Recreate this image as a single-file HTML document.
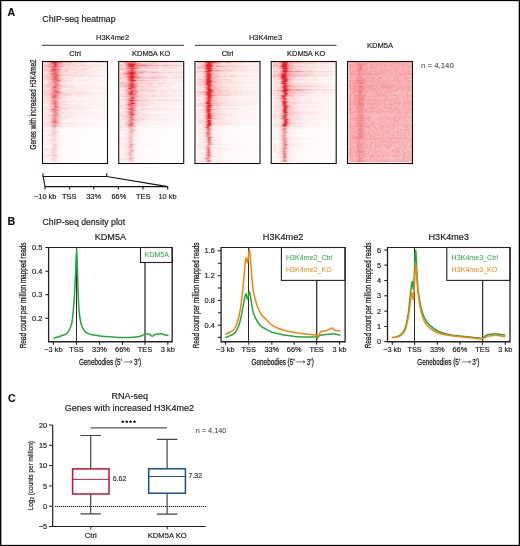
<!DOCTYPE html>
<html><head><meta charset="utf-8"><style>
html,body{margin:0;padding:0;background:#fff;}
#wrap{position:relative;width:520px;height:546px;overflow:hidden;background:#fff;font-family:"Liberation Sans", sans-serif;}
svg{position:absolute;left:0;top:0;}
svg text{font-family:"Liberation Sans", sans-serif;stroke-width:0.18px;}
canvas{image-rendering:auto;}
</style></head><body><div id="wrap">
<canvas id="hm0" width="64" height="101" style="position:absolute;left:43px;top:62px;width:64px;height:101px;background:linear-gradient(to bottom,rgba(255,255,255,0) 0,rgba(255,255,255,.35) 63%,rgba(255,255,255,.75) 64%,rgba(255,255,255,.8) 100%),linear-gradient(to right,#f8d8da 0,#f5c8cb 8px,#ee8d92 11px,#f3b5b8 15px,#f8d9db 25px,#fbe9ea 100%)"></canvas><canvas id="hm1" width="64" height="101" style="position:absolute;left:119.2px;top:62px;width:64px;height:101px;background:linear-gradient(to bottom,rgba(255,255,255,0) 0,rgba(255,255,255,.3) 63%,rgba(255,255,255,.7) 64%,rgba(255,255,255,.75) 100%),linear-gradient(to right,#f7d0d2 0,#f3c0c3 8px,#eb7278 11px,#f1a6aa 15px,#f6d0d2 25px,#fae4e5 100%)"></canvas><canvas id="hm2" width="64" height="101" style="position:absolute;left:195.5px;top:62px;width:64px;height:101px;background:linear-gradient(to bottom,rgba(255,255,255,0) 0,rgba(255,255,255,.3) 63%,rgba(255,255,255,.6) 64%,rgba(255,255,255,.65) 100%),linear-gradient(to right,#f8dcde 0,#f2b8bb 9px,#e63c44 12px,#f0a2a6 16px,#f8d8da 26px,#fbeaea 100%)"></canvas><canvas id="hm3" width="64" height="101" style="position:absolute;left:271.7px;top:62px;width:64px;height:101px;background:linear-gradient(to bottom,rgba(255,255,255,0) 0,rgba(255,255,255,.3) 63%,rgba(255,255,255,.6) 64%,rgba(255,255,255,.65) 100%),linear-gradient(to right,#f8dcde 0,#f2b8bb 9px,#e63c44 12px,#f0a2a6 16px,#f8d8da 26px,#fbeaea 100%)"></canvas><canvas id="hm4" width="64" height="101" style="position:absolute;left:348px;top:62px;width:64px;height:101px;background:linear-gradient(to right,#f3a9ac 0,#f0979b 12px,#f3a9ac 20px,#f4b0b3 100%)"></canvas>
<svg width="520" height="546" viewBox="0 0 520 546">
<rect x="0.5" y="0.5" width="519" height="545" fill="none" stroke="#000" stroke-width="1"/>
<line x1="1.5" y1="1" x2="1.5" y2="545" stroke="#000" stroke-opacity="0.35"/>
<line x1="518.5" y1="1" x2="518.5" y2="545" stroke="#000" stroke-opacity="0.3"/>
<line x1="2" y1="1.5" x2="518" y2="1.5" stroke="#000" stroke-opacity="0.15"/>
<line x1="2" y1="544.5" x2="518" y2="544.5" stroke="#000" stroke-opacity="0.15"/>
<text x="7.6" y="15.6" font-size="10.6" text-anchor="start" fill="#111" stroke="#111" font-weight="bold" >A</text>
<text x="42.3" y="22" font-size="8.8" text-anchor="start" fill="#222" stroke="#222" font-weight="normal" >ChIP-seq heatmap</text>
<text x="112.6" y="39.8" font-size="7.45" text-anchor="middle" fill="#222" stroke="#222" font-weight="normal" >H3K4me2</text>
<text x="265.5" y="39.8" font-size="7.45" text-anchor="middle" fill="#222" stroke="#222" font-weight="normal" >H3K4me3</text>
<line x1="42" y1="45.3" x2="184" y2="45.3" stroke="#333" stroke-width="1"/>
<line x1="194.8" y1="45.3" x2="336.5" y2="45.3" stroke="#333" stroke-width="1"/>
<text x="75" y="55.5" font-size="7.5" text-anchor="middle" fill="#222" stroke="#222" font-weight="normal" >Ctrl</text>
<text x="151.2" y="55.5" font-size="7.5" text-anchor="middle" fill="#222" stroke="#222" font-weight="normal" >KDM5A KO</text>
<text x="227.5" y="55.5" font-size="7.5" text-anchor="middle" fill="#222" stroke="#222" font-weight="normal" >Ctrl</text>
<text x="306.2" y="55.5" font-size="7.5" text-anchor="middle" fill="#222" stroke="#222" font-weight="normal" >KDM5A KO</text>
<text x="380" y="48.4" font-size="7.6" text-anchor="middle" fill="#222" stroke="#222" font-weight="normal" >KDM5A</text>
<text x="421" y="67.8" font-size="7.8" text-anchor="start" fill="#333" stroke="none" font-weight="normal" >n = 4,140</text>
<rect x="42.5" y="61.5" width="65" height="102" fill="none" stroke="#111" stroke-width="1.1"/>
<rect x="118.7" y="61.5" width="65" height="102" fill="none" stroke="#111" stroke-width="1.1"/>
<rect x="195.0" y="61.5" width="65" height="102" fill="none" stroke="#111" stroke-width="1.1"/>
<rect x="271.2" y="61.5" width="65" height="102" fill="none" stroke="#111" stroke-width="1.1"/>
<rect x="347.5" y="61.5" width="65" height="102" fill="none" stroke="#111" stroke-width="1.1"/>
<g transform="translate(35.5,104.5) rotate(-90) scale(0.715,1)"><text x="0" y="0" font-size="8.8" text-anchor="middle" fill="#222" stroke="#222" style="stroke-width:0.28px">Genes with increased H3K4me2</text></g>
<path d="M43,173.3 L43,176.5 L106.7,176.5 L106.7,173.3 M43.2,176.5 L45,186.6 M106.7,176.5 L167.7,186.6 M45,186.6 L167.7,186.6 M45,186.6 L45,189.6 M69.5,186.6 L69.5,189.6 M93.8,186.6 L93.8,189.6 M118.4,186.6 L118.4,189.6 M143,186.6 L143,189.6 M167.7,186.6 L167.7,189.6" fill="none" stroke="#111" stroke-width="1.1"/>
<text x="45.2" y="198.5" font-size="7.4" text-anchor="middle" fill="#222" stroke="#222" font-weight="normal" >−10 kb</text>
<text x="69.3" y="198.5" font-size="7.4" text-anchor="middle" fill="#222" stroke="#222" font-weight="normal" >TSS</text>
<text x="93.6" y="198.5" font-size="7.4" text-anchor="middle" fill="#222" stroke="#222" font-weight="normal" >33%</text>
<text x="118.9" y="198.5" font-size="7.4" text-anchor="middle" fill="#222" stroke="#222" font-weight="normal" >66%</text>
<text x="143.3" y="198.5" font-size="7.4" text-anchor="middle" fill="#222" stroke="#222" font-weight="normal" >TES</text>
<text x="167.5" y="198.5" font-size="7.4" text-anchor="middle" fill="#222" stroke="#222" font-weight="normal" >10 kb</text>
<text x="7.4" y="225" font-size="10.6" text-anchor="start" fill="#111" stroke="#111" font-weight="bold" >B</text>
<text x="42.5" y="224.5" font-size="8.7" text-anchor="start" fill="#222" stroke="#222" font-weight="normal" >ChIP-seq density plot</text>
<text x="110.39999999999999" y="240.4" font-size="9.1" text-anchor="middle" fill="#222" stroke="#222" font-weight="normal" >KDM5A</text>
<line x1="76.5" y1="247.5" x2="76.5" y2="341.8" stroke="#2a2a2a" stroke-width="1.05"/>
<line x1="145" y1="262.5" x2="145" y2="341.8" stroke="#333" stroke-width="1.3"/>
<rect x="140.5" y="247.5" width="31.69999999999999" height="15.0" fill="#fff" stroke="#222" stroke-width="1.1"/>
<line x1="48.6" y1="247.5" x2="172.2" y2="247.5" stroke="#222" stroke-width="1.05"/>
<line x1="48.6" y1="341.8" x2="172.2" y2="341.8" stroke="#222" stroke-width="1.5"/>
<line x1="48.6" y1="247.0" x2="48.6" y2="342.5" stroke="#222" stroke-width="1.3"/>
<line x1="172.2" y1="247.0" x2="172.2" y2="342.5" stroke="#222" stroke-width="1.3"/>
<line x1="53.4" y1="341.8" x2="53.4" y2="344.8" stroke="#222" stroke-width="1.1"/>
<text x="53.4" y="352.2" font-size="7.4" text-anchor="middle" fill="#222" stroke="#222" font-weight="normal" >−3 kb</text>
<line x1="76.5" y1="341.8" x2="76.5" y2="344.8" stroke="#222" stroke-width="1.1"/>
<text x="76.5" y="352.2" font-size="7.4" text-anchor="middle" fill="#222" stroke="#222" font-weight="normal" >TSS</text>
<line x1="99.5" y1="341.8" x2="99.5" y2="344.8" stroke="#222" stroke-width="1.1"/>
<text x="99.5" y="352.2" font-size="7.4" text-anchor="middle" fill="#222" stroke="#222" font-weight="normal" >33%</text>
<line x1="122.5" y1="341.8" x2="122.5" y2="344.8" stroke="#222" stroke-width="1.1"/>
<text x="122.5" y="352.2" font-size="7.4" text-anchor="middle" fill="#222" stroke="#222" font-weight="normal" >66%</text>
<line x1="145" y1="341.8" x2="145" y2="344.8" stroke="#222" stroke-width="1.1"/>
<text x="145" y="352.2" font-size="7.4" text-anchor="middle" fill="#222" stroke="#222" font-weight="normal" >TES</text>
<line x1="167.8" y1="341.8" x2="167.8" y2="344.8" stroke="#222" stroke-width="1.1"/>
<text x="167.8" y="352.2" font-size="7.4" text-anchor="middle" fill="#222" stroke="#222" font-weight="normal" >3 kb</text>
<line x1="45.4" y1="247.5" x2="48.6" y2="247.5" stroke="#222" stroke-width="1.1"/>
<text x="42.300000000000004" y="250.1" font-size="7.4" text-anchor="end" fill="#222" stroke="#222" font-weight="normal" >0.5</text>
<line x1="45.4" y1="271.2" x2="48.6" y2="271.2" stroke="#222" stroke-width="1.1"/>
<text x="42.300000000000004" y="273.8" font-size="7.4" text-anchor="end" fill="#222" stroke="#222" font-weight="normal" >0.4</text>
<line x1="45.4" y1="294.7" x2="48.6" y2="294.7" stroke="#222" stroke-width="1.1"/>
<text x="42.300000000000004" y="297.3" font-size="7.4" text-anchor="end" fill="#222" stroke="#222" font-weight="normal" >0.3</text>
<line x1="45.4" y1="318.3" x2="48.6" y2="318.3" stroke="#222" stroke-width="1.1"/>
<text x="42.300000000000004" y="320.90000000000003" font-size="7.4" text-anchor="end" fill="#222" stroke="#222" font-weight="normal" >0.2</text>
<g transform="translate(78.90,364.7) scale(0.74,1)"><text x="0" y="0" font-size="8.6" fill="#222" stroke="#222" style="stroke-width:0.26px">Genebodies (5’</text></g>
<path d="M123.60,361.9 L132.30,361.9 M130.30,360.4 L132.30,361.9 L130.30,363.4" stroke="#333" stroke-width="0.65" fill="none"/>
<g transform="translate(134.00,364.7) scale(0.75,1)"><text x="0" y="0" font-size="8.6" fill="#222" stroke="#222" style="stroke-width:0.26px">3’)</text></g>
<g transform="translate(26.4,295.4) rotate(-90) scale(0.75,1)"><text x="0" y="0" font-size="8.5" text-anchor="middle" fill="#222" stroke="#222" style="stroke-width:0.28px">Read count per million mapped reads</text></g>
<text x="156.8" y="256.9" font-size="7.0" text-anchor="middle" fill="#22a83a" stroke="none" font-weight="normal" >KDM5A</text>
<path d="M53.30,338.40 C53.92,338.20 55.72,337.60 57.00,337.20 C58.28,336.80 59.42,336.57 61.00,336.00 C62.58,335.43 64.98,335.08 66.50,333.80 C68.02,332.52 69.18,330.28 70.10,328.30 C71.02,326.32 71.45,325.10 72.00,321.90 C72.55,318.70 72.95,314.28 73.40,309.10 C73.85,303.92 74.33,296.90 74.70,290.80 C75.07,284.70 75.28,279.37 75.60,272.50 C75.92,265.63 76.28,249.68 76.60,249.60 C76.92,249.52 77.20,263.60 77.50,272.00 C77.80,280.40 78.03,292.60 78.40,300.00 C78.77,307.40 79.10,311.98 79.70,316.40 C80.30,320.82 80.85,323.75 82.00,326.50 C83.15,329.25 84.60,331.47 86.60,332.90 C88.60,334.33 91.77,334.60 94.00,335.10 C96.23,335.60 97.33,335.62 100.00,335.90 C102.67,336.18 106.40,336.52 110.00,336.80 C113.60,337.08 117.27,337.57 121.60,337.60 C125.93,337.63 132.63,337.33 136.00,337.00 C139.37,336.67 140.22,336.08 141.80,335.60 C143.38,335.12 144.53,334.42 145.50,334.10 C146.47,333.78 146.88,333.65 147.60,333.70 C148.32,333.75 149.03,333.98 149.80,334.40 C150.57,334.82 151.23,336.20 152.20,336.20 C153.17,336.20 154.57,334.77 155.60,334.40 C156.63,334.03 157.33,334.12 158.40,334.00 C159.47,333.88 161.03,333.58 162.00,333.70 C162.97,333.82 163.12,334.42 164.20,334.70 C165.28,334.98 167.78,335.28 168.50,335.40" fill="none" stroke="#22a83a" stroke-width="1.5" stroke-linejoin="round"/>
<text x="283.1" y="240.4" font-size="9.1" text-anchor="middle" fill="#222" stroke="#222" font-weight="normal" >H3K4me2</text>
<line x1="248.5" y1="247.5" x2="248.5" y2="341.8" stroke="#2a2a2a" stroke-width="1.05"/>
<line x1="316.7" y1="280.4" x2="316.7" y2="341.8" stroke="#333" stroke-width="1.3"/>
<rect x="281.4" y="247.5" width="63.700000000000045" height="32.89999999999998" fill="#fff" stroke="#222" stroke-width="1.1"/>
<line x1="221.1" y1="247.5" x2="345.1" y2="247.5" stroke="#222" stroke-width="1.05"/>
<line x1="221.1" y1="341.8" x2="345.1" y2="341.8" stroke="#222" stroke-width="1.5"/>
<line x1="221.1" y1="247.0" x2="221.1" y2="342.5" stroke="#222" stroke-width="1.3"/>
<line x1="345.1" y1="247.0" x2="345.1" y2="342.5" stroke="#222" stroke-width="1.3"/>
<line x1="225.4" y1="341.8" x2="225.4" y2="344.8" stroke="#222" stroke-width="1.1"/>
<text x="225.4" y="352.2" font-size="7.4" text-anchor="middle" fill="#222" stroke="#222" font-weight="normal" >−3 kb</text>
<line x1="248.8" y1="341.8" x2="248.8" y2="344.8" stroke="#222" stroke-width="1.1"/>
<text x="248.8" y="352.2" font-size="7.4" text-anchor="middle" fill="#222" stroke="#222" font-weight="normal" >TSS</text>
<line x1="271.8" y1="341.8" x2="271.8" y2="344.8" stroke="#222" stroke-width="1.1"/>
<text x="271.8" y="352.2" font-size="7.4" text-anchor="middle" fill="#222" stroke="#222" font-weight="normal" >33%</text>
<line x1="294.2" y1="341.8" x2="294.2" y2="344.8" stroke="#222" stroke-width="1.1"/>
<text x="294.2" y="352.2" font-size="7.4" text-anchor="middle" fill="#222" stroke="#222" font-weight="normal" >66%</text>
<line x1="316.6" y1="341.8" x2="316.6" y2="344.8" stroke="#222" stroke-width="1.1"/>
<text x="316.6" y="352.2" font-size="7.4" text-anchor="middle" fill="#222" stroke="#222" font-weight="normal" >TES</text>
<line x1="339.6" y1="341.8" x2="339.6" y2="344.8" stroke="#222" stroke-width="1.1"/>
<text x="339.6" y="352.2" font-size="7.4" text-anchor="middle" fill="#222" stroke="#222" font-weight="normal" >3 kb</text>
<line x1="217.9" y1="250.8" x2="221.1" y2="250.8" stroke="#222" stroke-width="1.1"/>
<text x="214.79999999999998" y="253.4" font-size="7.4" text-anchor="end" fill="#222" stroke="#222" font-weight="normal" >1.6</text>
<line x1="217.9" y1="263.3" x2="221.1" y2="263.3" stroke="#222" stroke-width="1.1"/>
<line x1="217.9" y1="275.7" x2="221.1" y2="275.7" stroke="#222" stroke-width="1.1"/>
<text x="214.79999999999998" y="278.3" font-size="7.4" text-anchor="end" fill="#222" stroke="#222" font-weight="normal" >1.2</text>
<line x1="217.9" y1="288" x2="221.1" y2="288" stroke="#222" stroke-width="1.1"/>
<line x1="217.9" y1="300.5" x2="221.1" y2="300.5" stroke="#222" stroke-width="1.1"/>
<text x="214.79999999999998" y="303.1" font-size="7.4" text-anchor="end" fill="#222" stroke="#222" font-weight="normal" >0.8</text>
<line x1="217.9" y1="312.8" x2="221.1" y2="312.8" stroke="#222" stroke-width="1.1"/>
<line x1="217.9" y1="325.2" x2="221.1" y2="325.2" stroke="#222" stroke-width="1.1"/>
<text x="214.79999999999998" y="327.8" font-size="7.4" text-anchor="end" fill="#222" stroke="#222" font-weight="normal" >0.4</text>
<line x1="217.9" y1="337.4" x2="221.1" y2="337.4" stroke="#222" stroke-width="1.1"/>
<g transform="translate(251.60,364.7) scale(0.74,1)"><text x="0" y="0" font-size="8.6" fill="#222" stroke="#222" style="stroke-width:0.26px">Genebodies (5’</text></g>
<path d="M296.30,361.9 L305.00,361.9 M303.00,360.4 L305.00,361.9 L303.00,363.4" stroke="#333" stroke-width="0.65" fill="none"/>
<g transform="translate(306.70,364.7) scale(0.75,1)"><text x="0" y="0" font-size="8.6" fill="#222" stroke="#222" style="stroke-width:0.26px">3’)</text></g>
<g transform="translate(199.1,295.4) rotate(-90) scale(0.75,1)"><text x="0" y="0" font-size="8.5" text-anchor="middle" fill="#222" stroke="#222" style="stroke-width:0.28px">Read count per million mapped reads</text></g>
<text x="286" y="259.6" font-size="7.1" text-anchor="start" fill="#22a83a" stroke="none" font-weight="normal" >H3K4me2_Ctrl</text>
<text x="286" y="271.8" font-size="7.1" text-anchor="start" fill="#f5840e" stroke="none" font-weight="normal" >H3K4me2_KO</text>
<path d="M225.30,337.50 C226.12,337.20 228.62,336.47 230.20,335.70 C231.78,334.93 233.42,334.43 234.80,332.90 C236.18,331.37 237.43,329.25 238.50,326.50 C239.57,323.75 240.35,320.22 241.20,316.40 C242.05,312.58 242.90,307.20 243.60,303.60 C244.30,300.00 244.93,296.32 245.40,294.80 C245.87,293.28 246.03,293.80 246.40,294.50 C246.77,295.20 247.08,299.47 247.60,299.00 C248.12,298.53 248.93,291.53 249.50,291.70 C250.07,291.87 250.55,297.40 251.00,300.00 C251.45,302.60 251.70,304.87 252.20,307.30 C252.70,309.73 253.08,312.15 254.00,314.60 C254.92,317.05 256.47,320.02 257.70,322.00 C258.93,323.98 260.02,325.30 261.40,326.50 C262.78,327.70 264.32,328.28 266.00,329.20 C267.68,330.12 269.62,331.27 271.50,332.00 C273.38,332.73 274.88,333.05 277.30,333.60 C279.72,334.15 283.12,334.83 286.00,335.30 C288.88,335.77 291.72,336.13 294.60,336.40 C297.48,336.67 299.83,336.78 303.30,336.90 C306.77,337.02 313.10,336.90 315.40,337.10 C317.70,337.30 316.23,338.40 317.10,338.10 C317.97,337.80 318.58,335.97 320.60,335.30 C322.62,334.63 326.90,334.30 329.20,334.10 C331.50,333.90 332.53,333.90 334.40,334.10 C336.27,334.30 339.40,335.10 340.40,335.30" fill="none" stroke="#22a83a" stroke-width="1.5" stroke-linejoin="round"/>
<path d="M225.30,334.40 C226.12,334.00 228.62,333.02 230.20,332.00 C231.78,330.98 233.42,330.58 234.80,328.30 C236.18,326.02 237.43,322.42 238.50,318.30 C239.57,314.18 240.35,309.72 241.20,303.60 C242.05,297.48 242.90,288.62 243.60,281.60 C244.30,274.58 244.93,265.40 245.40,261.50 C245.87,257.60 246.03,258.05 246.40,258.20 C246.77,258.35 247.08,263.83 247.60,262.40 C248.12,260.97 248.95,249.15 249.50,249.60 C250.05,250.05 250.45,259.77 250.90,265.10 C251.35,270.43 251.68,276.70 252.20,281.60 C252.72,286.50 253.08,290.22 254.00,294.50 C254.92,298.78 256.47,303.95 257.70,307.30 C258.93,310.65 260.02,312.62 261.40,314.60 C262.78,316.58 264.32,317.52 266.00,319.20 C267.68,320.88 269.62,323.23 271.50,324.70 C273.38,326.17 274.88,327.00 277.30,328.00 C279.72,329.00 283.12,329.97 286.00,330.70 C288.88,331.43 291.72,331.88 294.60,332.40 C297.48,332.92 300.42,333.43 303.30,333.80 C306.18,334.17 309.75,334.35 311.90,334.60 C314.05,334.85 315.18,334.95 316.20,335.30 C317.22,335.65 317.27,337.27 318.00,336.70 C318.73,336.13 319.32,332.90 320.60,331.90 C321.88,330.90 324.27,331.12 325.70,330.70 C327.13,330.28 328.18,329.85 329.20,329.40 C330.22,328.95 330.93,327.88 331.80,328.00 C332.67,328.12 332.97,329.60 334.40,330.10 C335.83,330.60 339.40,330.85 340.40,331.00" fill="none" stroke="#f5840e" stroke-width="1.5" stroke-linejoin="round"/>
<text x="448.75" y="240.4" font-size="9.1" text-anchor="middle" fill="#222" stroke="#222" font-weight="normal" >H3K4me3</text>
<line x1="414.5" y1="247.5" x2="414.5" y2="341.8" stroke="#2a2a2a" stroke-width="1.05"/>
<line x1="482.6" y1="280.4" x2="482.6" y2="341.8" stroke="#333" stroke-width="1.3"/>
<rect x="446.8" y="247.5" width="63.19999999999999" height="32.89999999999998" fill="#fff" stroke="#222" stroke-width="1.1"/>
<line x1="387.5" y1="247.5" x2="510.0" y2="247.5" stroke="#222" stroke-width="1.05"/>
<line x1="387.5" y1="341.8" x2="510.0" y2="341.8" stroke="#222" stroke-width="1.5"/>
<line x1="387.5" y1="247.0" x2="387.5" y2="342.5" stroke="#222" stroke-width="1.3"/>
<line x1="510.0" y1="247.0" x2="510.0" y2="342.5" stroke="#222" stroke-width="1.3"/>
<line x1="392.3" y1="341.8" x2="392.3" y2="344.8" stroke="#222" stroke-width="1.1"/>
<text x="392.3" y="352.2" font-size="7.4" text-anchor="middle" fill="#222" stroke="#222" font-weight="normal" >−3 kb</text>
<line x1="414.6" y1="341.8" x2="414.6" y2="344.8" stroke="#222" stroke-width="1.1"/>
<text x="414.6" y="352.2" font-size="7.4" text-anchor="middle" fill="#222" stroke="#222" font-weight="normal" >TSS</text>
<line x1="437.3" y1="341.8" x2="437.3" y2="344.8" stroke="#222" stroke-width="1.1"/>
<text x="437.3" y="352.2" font-size="7.4" text-anchor="middle" fill="#222" stroke="#222" font-weight="normal" >33%</text>
<line x1="459.9" y1="341.8" x2="459.9" y2="344.8" stroke="#222" stroke-width="1.1"/>
<text x="459.9" y="352.2" font-size="7.4" text-anchor="middle" fill="#222" stroke="#222" font-weight="normal" >66%</text>
<line x1="482.4" y1="341.8" x2="482.4" y2="344.8" stroke="#222" stroke-width="1.1"/>
<text x="482.4" y="352.2" font-size="7.4" text-anchor="middle" fill="#222" stroke="#222" font-weight="normal" >TES</text>
<line x1="505.3" y1="341.8" x2="505.3" y2="344.8" stroke="#222" stroke-width="1.1"/>
<text x="505.3" y="352.2" font-size="7.4" text-anchor="middle" fill="#222" stroke="#222" font-weight="normal" >3 kb</text>
<line x1="384.3" y1="250.0" x2="387.5" y2="250.0" stroke="#222" stroke-width="1.1"/>
<text x="381.2" y="252.6" font-size="7.4" text-anchor="end" fill="#222" stroke="#222" font-weight="normal" >6</text>
<line x1="384.3" y1="265.1" x2="387.5" y2="265.1" stroke="#222" stroke-width="1.1"/>
<text x="381.2" y="267.70000000000005" font-size="7.4" text-anchor="end" fill="#222" stroke="#222" font-weight="normal" >5</text>
<line x1="384.3" y1="280.5" x2="387.5" y2="280.5" stroke="#222" stroke-width="1.1"/>
<text x="381.2" y="283.1" font-size="7.4" text-anchor="end" fill="#222" stroke="#222" font-weight="normal" >4</text>
<line x1="384.3" y1="295.8" x2="387.5" y2="295.8" stroke="#222" stroke-width="1.1"/>
<text x="381.2" y="298.40000000000003" font-size="7.4" text-anchor="end" fill="#222" stroke="#222" font-weight="normal" >3</text>
<line x1="384.3" y1="311.1" x2="387.5" y2="311.1" stroke="#222" stroke-width="1.1"/>
<text x="381.2" y="313.70000000000005" font-size="7.4" text-anchor="end" fill="#222" stroke="#222" font-weight="normal" >2</text>
<line x1="384.3" y1="326.5" x2="387.5" y2="326.5" stroke="#222" stroke-width="1.1"/>
<text x="381.2" y="329.1" font-size="7.4" text-anchor="end" fill="#222" stroke="#222" font-weight="normal" >1</text>
<line x1="384.3" y1="341.6" x2="387.5" y2="341.6" stroke="#222" stroke-width="1.1"/>
<text x="381.2" y="344.20000000000005" font-size="7.4" text-anchor="end" fill="#222" stroke="#222" font-weight="normal" >0</text>
<g transform="translate(417.25,364.7) scale(0.74,1)"><text x="0" y="0" font-size="8.6" fill="#222" stroke="#222" style="stroke-width:0.26px">Genebodies (5’</text></g>
<path d="M461.95,361.9 L470.65,361.9 M468.65,360.4 L470.65,361.9 L468.65,363.4" stroke="#333" stroke-width="0.65" fill="none"/>
<g transform="translate(472.35,364.7) scale(0.75,1)"><text x="0" y="0" font-size="8.6" fill="#222" stroke="#222" style="stroke-width:0.26px">3’)</text></g>
<g transform="translate(370.8,295.4) rotate(-90) scale(0.75,1)"><text x="0" y="0" font-size="8.5" text-anchor="middle" fill="#222" stroke="#222" style="stroke-width:0.28px">Read count per million mapped reads</text></g>
<text x="451.6" y="259.6" font-size="7.1" text-anchor="start" fill="#22a83a" stroke="none" font-weight="normal" >H3K4me3_Ctrl</text>
<text x="451.6" y="271.8" font-size="7.1" text-anchor="start" fill="#f5840e" stroke="none" font-weight="normal" >H3K4me3_KO</text>
<path d="M392.00,337.50 C392.87,337.35 395.58,337.22 397.20,336.60 C398.82,335.98 400.33,335.33 401.70,333.80 C403.07,332.27 404.33,330.60 405.40,327.40 C406.47,324.20 407.33,319.48 408.10,314.60 C408.87,309.72 409.45,302.83 410.00,298.10 C410.55,293.37 411.00,288.95 411.40,286.20 C411.80,283.45 412.03,281.30 412.40,281.60 C412.77,281.90 413.08,293.18 413.60,288.00 C414.12,282.82 414.95,253.08 415.50,250.50 C416.05,247.92 416.45,265.78 416.90,272.50 C417.35,279.22 417.52,285.00 418.20,290.80 C418.88,296.60 419.93,302.72 421.00,307.30 C422.07,311.88 423.08,315.25 424.60,318.30 C426.12,321.35 427.75,323.40 430.10,325.60 C432.45,327.80 435.83,330.07 438.70,331.50 C441.57,332.93 444.42,333.52 447.30,334.20 C450.18,334.88 453.12,335.20 456.00,335.60 C458.88,336.00 461.72,336.30 464.60,336.60 C467.48,336.90 470.42,337.13 473.30,337.40 C476.18,337.67 479.88,338.47 481.90,338.20 C483.92,337.93 484.25,336.40 485.40,335.80 C486.55,335.20 487.08,334.93 488.80,334.60 C490.52,334.27 493.68,333.83 495.70,333.80 C497.72,333.77 499.30,334.18 500.90,334.40 C502.50,334.62 504.57,334.98 505.30,335.10" fill="none" stroke="#22a83a" stroke-width="1.5" stroke-linejoin="round"/>
<path d="M392.00,337.60 C392.87,337.50 395.58,337.48 397.20,337.00 C398.82,336.52 400.33,335.93 401.70,334.70 C403.07,333.47 404.33,332.33 405.40,329.60 C406.47,326.87 407.33,322.33 408.10,318.30 C408.87,314.27 409.45,309.22 410.00,305.40 C410.55,301.58 411.00,297.47 411.40,295.40 C411.80,293.33 412.03,292.55 412.40,293.00 C412.77,293.45 413.08,302.75 413.60,298.10 C414.12,293.45 414.95,268.28 415.50,265.10 C416.05,261.92 416.45,274.10 416.90,279.00 C417.35,283.90 417.52,289.13 418.20,294.50 C418.88,299.87 419.93,306.65 421.00,311.20 C422.07,315.75 423.08,318.95 424.60,321.80 C426.12,324.65 427.75,326.38 430.10,328.30 C432.45,330.22 435.83,332.18 438.70,333.30 C441.57,334.42 444.42,334.50 447.30,335.00 C450.18,335.50 453.12,335.92 456.00,336.30 C458.88,336.68 461.72,337.00 464.60,337.30 C467.48,337.60 470.42,337.83 473.30,338.10 C476.18,338.37 479.88,339.05 481.90,338.90 C483.92,338.75 484.25,337.67 485.40,337.20 C486.55,336.73 487.08,336.42 488.80,336.10 C490.52,335.78 493.68,335.33 495.70,335.30 C497.72,335.27 499.30,335.68 500.90,335.90 C502.50,336.12 504.57,336.48 505.30,336.60" fill="none" stroke="#f5840e" stroke-width="1.5" stroke-linejoin="round"/>
<text x="8" y="401.5" font-size="10.6" text-anchor="start" fill="#111" stroke="#111" font-weight="bold" >C</text>
<text x="129.7" y="398.5" font-size="9" text-anchor="middle" fill="#222" stroke="#222" font-weight="normal" >RNA-seq</text>
<text x="129.4" y="411.2" font-size="9" text-anchor="middle" fill="#222" stroke="#222" font-weight="normal" >Genes with increased H3K4me2</text>
<polygon points="122.80,419.95 123.36,420.93 124.46,421.16 123.70,421.99 123.83,423.12 122.80,422.65 121.77,423.12 121.90,421.99 121.14,421.16 122.24,420.93" fill="#111"/>
<polygon points="126.70,419.95 127.26,420.93 128.36,421.16 127.60,421.99 127.73,423.12 126.70,422.65 125.67,423.12 125.80,421.99 125.04,421.16 126.14,420.93" fill="#111"/>
<polygon points="130.60,419.95 131.16,420.93 132.26,421.16 131.50,421.99 131.63,423.12 130.60,422.65 129.57,423.12 129.70,421.99 128.94,421.16 130.04,420.93" fill="#111"/>
<polygon points="134.50,419.95 135.06,420.93 136.16,421.16 135.40,421.99 135.53,423.12 134.50,422.65 133.47,423.12 133.60,421.99 132.84,421.16 133.94,420.93" fill="#111"/>
<line x1="90.5" y1="427.9" x2="166.8" y2="427.9" stroke="#555" stroke-width="1.3"/>
<g transform="translate(32.7,475.7) rotate(-90) scale(0.96,1)"><text x="0" y="0" font-size="6.7" text-anchor="middle" fill="#222" stroke="#222">Log<tspan font-size="4.7" dy="1.6">2</tspan><tspan dy="-1.6"> (counts per million)</tspan></text></g>
<text x="195.7" y="432.6" font-size="7.3" text-anchor="start" fill="#333" stroke="none" font-weight="normal" >n = 4,140</text>
<path d="M52.7,424.9 L52.7,526.5 L205.6,526.5" fill="none" stroke="#222" stroke-width="1.2"/>
<line x1="49" y1="425.00" x2="52.7" y2="425.00" stroke="#222" stroke-width="1"/>
<text x="47" y="427.6" font-size="7.3" text-anchor="end" fill="#222" stroke="#222" font-weight="normal" >20</text>
<line x1="49" y1="445.30" x2="52.7" y2="445.30" stroke="#222" stroke-width="1"/>
<text x="47" y="447.90000000000003" font-size="7.3" text-anchor="end" fill="#222" stroke="#222" font-weight="normal" >15</text>
<line x1="49" y1="465.60" x2="52.7" y2="465.60" stroke="#222" stroke-width="1"/>
<text x="47" y="468.20000000000005" font-size="7.3" text-anchor="end" fill="#222" stroke="#222" font-weight="normal" >10</text>
<line x1="49" y1="485.90" x2="52.7" y2="485.90" stroke="#222" stroke-width="1"/>
<text x="47" y="488.5" font-size="7.3" text-anchor="end" fill="#222" stroke="#222" font-weight="normal" >5</text>
<line x1="49" y1="506.20" x2="52.7" y2="506.20" stroke="#222" stroke-width="1"/>
<text x="47" y="508.8" font-size="7.3" text-anchor="end" fill="#222" stroke="#222" font-weight="normal" >0</text>
<line x1="49" y1="526.50" x2="52.7" y2="526.50" stroke="#222" stroke-width="1"/>
<text x="47" y="529.1" font-size="7.3" text-anchor="end" fill="#222" stroke="#222" font-weight="normal" >−5</text>
<line x1="90.8" y1="526.5" x2="90.8" y2="529.5" stroke="#222" stroke-width="1"/>
<line x1="167.2" y1="526.5" x2="167.2" y2="529.5" stroke="#222" stroke-width="1"/>
<text x="90.8" y="538.2" font-size="7.8" text-anchor="middle" fill="#222" stroke="#222" font-weight="normal" >Ctrl</text>
<text x="167.2" y="538.4" font-size="7.6" text-anchor="middle" fill="#222" stroke="#222" font-weight="normal" >KDM5A KO</text>
<line x1="55" y1="506.5" x2="207" y2="506.5" stroke="#111" stroke-width="1.15" stroke-dasharray="1.15,0.85"/>
<path d="M90.7,468.9 L90.7,435.5 M80.5,435.5 L100.9,435.5 M90.7,494 L90.7,513.8 M80.5,513.8 L100.9,513.8" stroke="#444" stroke-width="1.2" fill="none"/>
<rect x="72.6" y="468.9" width="36.400000000000006" height="25.100000000000023" fill="none" stroke="#c8102e" stroke-width="1.5"/>
<line x1="72.6" y1="479.4" x2="109" y2="479.4" stroke="#c8102e" stroke-width="0.95"/>
<path d="M167.1,468.8 L167.1,439.3 M156.9,439.3 L177.29999999999998,439.3 M167.1,493.2 L167.1,514.1 M156.9,514.1 L177.29999999999998,514.1" stroke="#444" stroke-width="1.2" fill="none"/>
<rect x="148.7" y="468.8" width="36.70000000000002" height="24.399999999999977" fill="none" stroke="#14528e" stroke-width="1.5"/>
<line x1="148.7" y1="476.5" x2="185.4" y2="476.5" stroke="#14528e" stroke-width="0.95"/>
<text x="112.7" y="480.8" font-size="7" text-anchor="start" fill="#333" stroke="#333" font-weight="normal" >6.62</text>
<text x="188.5" y="477.5" font-size="7" text-anchor="start" fill="#333" stroke="#333" font-weight="normal" >7.32</text>
</svg>
</div>
<script>
(function(){
function rng(seed){var s=seed>>>0;return function(){s=(Math.imul(s,1664525)+1013904223)>>>0;return s/4294967296;};}
function gs(r){var u=r()+1e-9,v=r();return Math.sqrt(-2*Math.log(u))*Math.cos(6.2831853*v);}
function smooth1(a,rad){var n=a.length,o=new Array(n);for(var i=0;i<n;i++){var s=0,w=0;for(var j=-rad;j<=rad;j++){var k=i+j;if(k<0||k>=n)continue;var ww=1-Math.abs(j)/(rad+1);s+=a[k]*ww;w+=ww;}o[i]=s/w;}return o;}
function env(pts,y){for(var i=0;i<pts.length-1;i++){if(y<=pts[i+1][0]){var t=(y-pts[i][0])/(pts[i+1][0]-pts[i][0]);return pts[i][1]+(pts[i+1][1]-pts[i][1])*t;}}return pts[pts.length-1][1];}
function clamp(v,a,b){return v<a?a:(v>b?b:v);}
var P=[
 {seed:11,tss:11.4,sig:[[0,3.4],[20,2.8],[64,2.3],[65,2.2],[100,2.0]],
  pk:[[0,0.42],[20,0.4],[64,0.37],[65,0.14],[100,0.13]],
  bd:[[0,0.3],[10,0.2],[64,0.08],[65,0.025],[100,0.02]],
  up:[[0,0.22],[10,0.17],[64,0.1],[65,0.07],[100,0.065]],streak:0.32,noise:0.055,lam:45,pn:0.12,halo:0.3,hl:6},
 {seed:23,tss:11.8,sig:[[0,3.4],[20,2.8],[64,2.3],[65,2.2],[100,2.0]],
  pk:[[0,0.52],[20,0.5],[64,0.46],[65,0.24],[100,0.21]],
  bd:[[0,0.34],[10,0.25],[64,0.1],[65,0.03],[100,0.025]],
  up:[[0,0.24],[10,0.19],[64,0.11],[65,0.075],[100,0.07]],streak:0.32,noise:0.055,lam:45,pn:0.12,halo:0.3,hl:6},
 {seed:37,tss:12.3,sig:[[0,2.0],[30,1.7],[64,1.6],[100,1.55]],
  pk:[[0,0.76],[20,0.74],[64,0.68],[65,0.42],[100,0.38]],
  bd:[[0,0.36],[15,0.24],[64,0.12],[65,0.06],[100,0.055]],
  up:[[0,0.22],[15,0.14],[64,0.08],[65,0.06],[100,0.055]],streak:0.35,noise:0.045,lam:35,pn:0.18,halo:0.35,hl:6,uh:0.3,uw:4},
 {seed:41,tss:12.3,sig:[[0,2.0],[30,1.7],[64,1.6],[100,1.55]],
  pk:[[0,0.76],[20,0.74],[64,0.68],[65,0.42],[100,0.38]],
  bd:[[0,0.36],[15,0.24],[64,0.12],[65,0.06],[100,0.055]],
  up:[[0,0.22],[15,0.14],[64,0.08],[65,0.06],[100,0.055]],streak:0.35,noise:0.045,lam:35,pn:0.18,halo:0.35,hl:6,uh:0.3,uw:4}
];
var RC=[232,36,42];
function put(ctx,V,W,H){
 var img=ctx.createImageData(W,H);
 for(var y=0;y<H;y++)for(var x=0;x<W;x++){
  var v=clamp(V[y][x],0,1),i=(y*W+x)*4;
  img.data[i]=255+(RC[0]-255)*v;img.data[i+1]=255+(RC[1]-255)*v;img.data[i+2]=255+(RC[2]-255)*v;img.data[i+3]=255;
 }
 ctx.putImageData(img,0,0);
}
var W=64,H=101;
for(var k=0;k<4;k++){
 var p=P[k],c=document.getElementById('hm'+k);if(!c)continue;
 var ctx=c.getContext('2d'),r=rng(p.seed),V=[];
 for(var y=0;y<H;y++){
  var pk=env(p.pk,y),bd=env(p.bd,y),up=env(p.up,y),sg=env(p.sig,y);
  pk*=clamp(Math.exp(gs(r)*p.pn),0.6,1.5); var sm=clamp(Math.exp(gs(r)*p.streak),0.35,2.2); bd*=sm; up*=clamp(Math.exp(gs(r)*0.3),0.6,1.6)*Math.sqrt(sm);
  var nz=[];for(var x=0;x<W;x++)nz.push(gs(r));
  var nz2=smooth1(nz,2);
  var shift=gs(r)*0.5, row=[];
  for(var x=0;x<W;x++){
   var dx=x-p.tss-shift;
   var v=pk*Math.exp(-dx*dx/(2*sg*sg));
   var hf=(p.halo||0.25)*(y<64?1:0.5);
   if(dx>0) v+=bd*Math.exp(-dx/p.lam)+pk*hf*Math.exp(-dx/(p.hl||5));
   else v+=up+pk*(p.uh||0.2)*Math.exp(dx/(p.uw||3));
   v*=Math.max(0.15,1+nz2[x]*p.noise*8);
   row.push(v);
  }
  V.push(row);
 }
 var O=[];
 for(var y=0;y<H;y++){var row=[];for(var x=0;x<W;x++){
   var a=V[y][x], b=V[Math.max(0,y-1)][x], cc=V[Math.min(H-1,y+1)][x];
   var v=a*0.76+0.12*(b+cc);
   if(x==0) v*=0.4;
   if(y==H-1) v*=0.15;
   row.push(v);}O.push(row);}
 put(ctx,O,W,H);
}
// KDM5A heatmap: uniform pink with grain
(function(){
 var c=document.getElementById('hm4');if(!c)return;
 var ctx=c.getContext('2d'),r=rng(53),V=[];
 for(var y=0;y<H;y++){
  var rowm=1+gs(r)*0.05, pkr=clamp(0.14+gs(r)*0.06,0,0.3);
  var row=[];
  for(var x=0;x<W;x++){
   var dx=x-11.8;
   var v=0.375*rowm+pkr*Math.exp(-dx*dx/(2*2.4*2.4))+gs(r)*0.06 - 0.04*(x/W) + (y<50?0.03:0);
   row.push(v);
  }
  V.push(row);
 }
 var O=[];
 for(var y=0;y<H;y++){var row=[];for(var x=0;x<W;x++){
   var v=V[y][x]*0.6+0.1*(V[Math.max(0,y-1)][x]+V[Math.min(H-1,y+1)][x]+V[y][Math.max(0,x-1)]+V[y][Math.min(W-1,x+1)]);
   if(x==0) v*=0.5;
   if(y==H-1) v*=0.3;
   row.push(v);}O.push(row);}
 put(ctx,O,W,H);
})();
})();

</script>
</body></html>
